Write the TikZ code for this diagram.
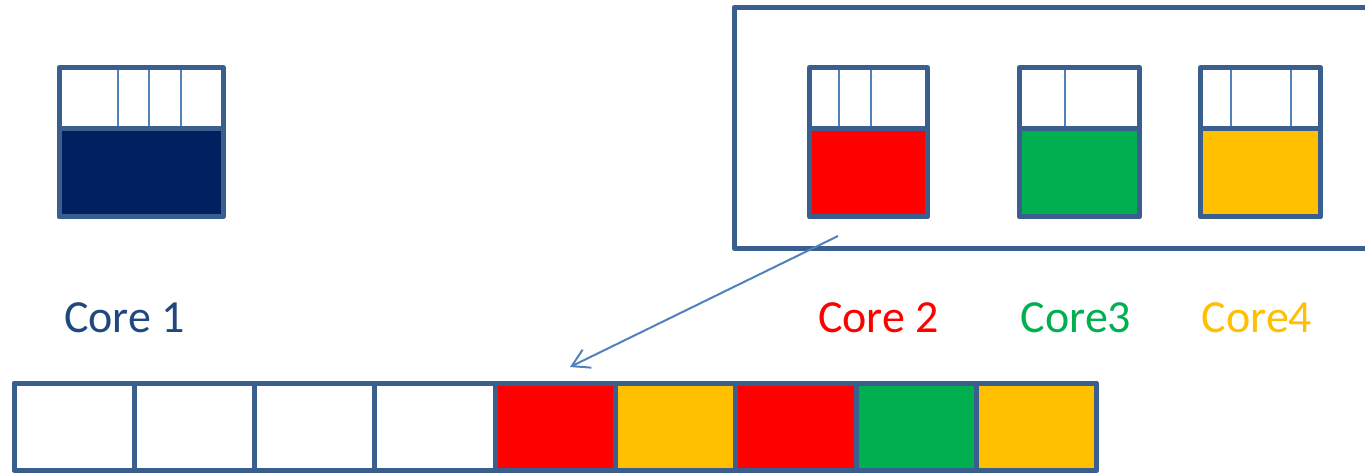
\documentclass[tikz,border=0pt]{standalone}
\usepackage{fontspec}
\setmainfont{Carlito}
\usetikzlibrary{arrows.meta,calc}
\definecolor{edgeblue}{HTML}{3A5F8E}
\definecolor{slotblue}{HTML}{4F81BD}
\definecolor{navy}{HTML}{002060}
\definecolor{labelblue}{HTML}{1F497D}
\definecolor{cred}{HTML}{FF0000}
\definecolor{cgreen}{HTML}{00B050}
\definecolor{cgold}{HTML}{FFC000}
\tikzset{
  box/.style={draw=edgeblue, line width=5pt, line join=round, inner sep=0pt, outer sep=0pt, anchor=north west},
  slot/.style={draw=slotblue, line width=2pt},
  cell/.style={box, minimum width=120.3pt, minimum height=87.5pt},
  corelabel/.style={anchor=base, inner sep=0pt, font=\fontsize{46}{50}\selectfont},
  link/.style={draw=slotblue, line width=2pt, -{Straight Barb[length=17pt, width=20pt, line width=2pt]}},
}
\begin{document}
\begin{tikzpicture}[x=1pt, y=-1pt]
\useasboundingbox (0,0) rectangle (1365,473);
\clip (0,0) rectangle (1365,473);

% group frame around cores 2-4
\node[box, minimum width=660pt, minimum height=240.5pt] (group) at (734,7.5) {};

% a core: cache line slots on top, colored body below
% Core 1
\draw[slot] (118,67.5) -- (118,128.5) (149,67.5) -- (149,128.5) (181,67.5) -- (181,128.5);
\node[box, minimum width=164pt, minimum height=61pt] (c1top) at (59,67.5) {};
\node[box, fill=navy, minimum width=164pt, minimum height=88.5pt] (c1body) at (59,128.5) {};
% Core 2
\draw[slot] (839,67.5) -- (839,128.5) (871,67.5) -- (871,128.5);
\node[box, minimum width=118pt, minimum height=61pt] (c2top) at (809.5,67.5) {};
\node[box, fill=cred, minimum width=118pt, minimum height=88.5pt] (c2body) at (809.5,128.5) {};
% Core 3
\draw[slot] (1065,67.5) -- (1065,128.5);
\node[box, minimum width=120pt, minimum height=61pt] (c3top) at (1019.5,67.5) {};
\node[box, fill=cgreen, minimum width=120pt, minimum height=88.5pt] (c3body) at (1019.5,128.5) {};
% Core 4
\draw[slot] (1231,67.5) -- (1231,128.5) (1291,67.5) -- (1291,128.5);
\node[box, minimum width=120pt, minimum height=61pt] (c4top) at (1200.5,67.5) {};
\node[box, fill=cgold, minimum width=120pt, minimum height=88.5pt] (c4body) at (1200.5,128.5) {};

% labels
\node[corelabel, text=labelblue] (l1) at (124.5,332) {Core 1};
\node[corelabel, text=cred] (l2) at (878.5,332) {Core 2};
\node[corelabel, text=cgreen] (l3) at (1076,332) {Core3};
\node[corelabel, text=cgold] (l4) at (1257,332) {Core4};

% shared row of cells
\node[cell] (m1) at (14,383) {};
\node[cell] (m2) at (134.3,383) {};
\node[cell] (m3) at (254.6,383) {};
\node[cell] (m4) at (374.9,383) {};
\node[cell, fill=cred] (m5) at (495.2,383) {};
\node[cell, fill=cgold] (m6) at (615.5,383) {};
\node[cell, fill=cred] (m7) at (735.8,383) {};
\node[cell, fill=cgreen] (m8) at (856.1,383) {};
\node[cell, fill=cgold] (m9) at (976.4,383) {};

% arrow from core 2 into the row
\coordinate (src) at ($(c2body.south west)+(28.5,19)$);
\coordinate (dst) at ($(m5.north)+(14.6,-16)$);
\draw[link] (src) -- (dst);
\end{tikzpicture}
\end{document}
